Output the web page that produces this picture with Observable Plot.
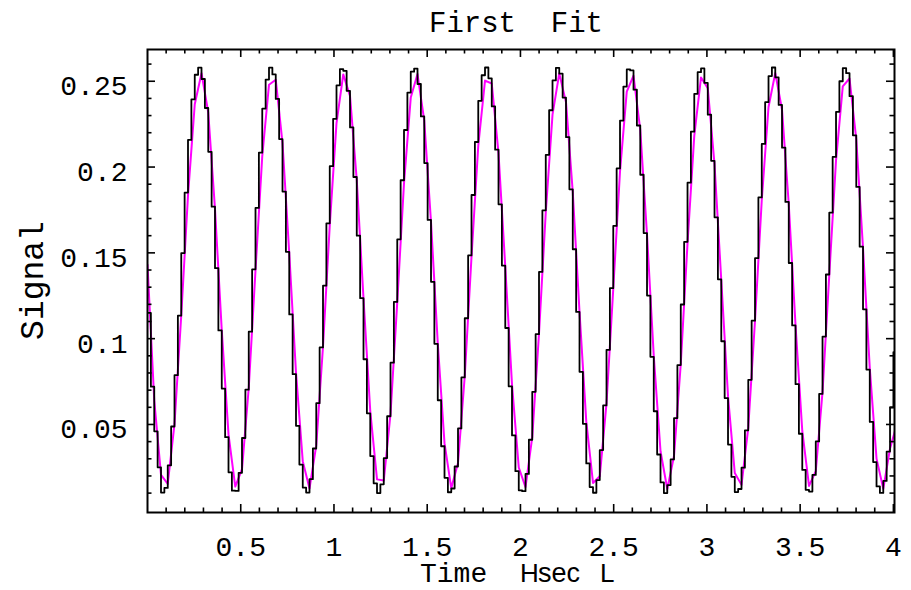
<!DOCTYPE html>
<html><head><meta charset="utf-8">
<script src="https://cdn.jsdelivr.net/npm/d3@7"></script>
<script src="https://cdn.jsdelivr.net/npm/@observablehq/plot@0.6"></script>
<style>
html,body{margin:0;padding:0;background:#fff;}
#chart{width:911px;height:590px;}
</style></head><body><div id="chart"></div>
<script>
// ---- data ----
const sampleStep = 0.0181;   // seconds between measured samples
const fitStep = 0.0362;      // seconds between fitted-curve points
const measuredSignal = [
0.115, 0.072, 0.046, 0.025, 0.0103, 0.0130, 0.0262, 0.0488, 0.0787, 0.1134,
0.1499, 0.1851, 0.2158, 0.2394, 0.2538, 0.2579, 0.2513, 0.2344, 0.2089, 0.1769,
0.1411, 0.1048, 0.0709, 0.0426, 0.0221, 0.0114, 0.0113, 0.0218, 0.0421, 0.0703,
0.1041, 0.1404, 0.1762, 0.2084, 0.2340, 0.2510, 0.2579, 0.2540, 0.2397, 0.2163,
0.1857, 0.1506, 0.1141, 0.0793, 0.0492, 0.0266, 0.0132, 0.0103, 0.0181, 0.0360,
0.0624, 0.0949, 0.1309, 0.1672, 0.2005, 0.2281, 0.2476, 0.2571, 0.2561, 0.2444,
0.2231, 0.1942, 0.1600, 0.1236, 0.0880, 0.0565, 0.0316, 0.0157, 0.0100, 0.0151,
0.0304, 0.0548, 0.0860, 0.1214, 0.1579, 0.1923, 0.2216, 0.2434, 0.2556, 0.2574,
0.2484, 0.2295, 0.2023, 0.1692, 0.1331, 0.0970, 0.0641, 0.0373, 0.0189, 0.0105,
0.0127, 0.0255, 0.0477, 0.0774, 0.1119, 0.1485, 0.1837, 0.2146, 0.2386, 0.2535,
0.2580, 0.2517, 0.2353, 0.2101, 0.1783, 0.1426, 0.1062, 0.0722, 0.0436, 0.0228,
0.0116, 0.0111, 0.0212, 0.0411, 0.0690, 0.1026, 0.1389, 0.1748, 0.2071, 0.2331,
0.2505, 0.2578, 0.2544, 0.2405, 0.2174, 0.1870, 0.1521, 0.1156, 0.0807, 0.0504,
0.0273, 0.0135, 0.0102, 0.0176, 0.0351, 0.0611, 0.0935, 0.1294, 0.1657, 0.1992,
0.2271, 0.2469, 0.2569, 0.2563, 0.2451, 0.2242, 0.1955, 0.1615, 0.1251, 0.0894,
0.0577, 0.0325, 0.0162, 0.0100, 0.0147, 0.0296, 0.0537, 0.0846, 0.1199, 0.1564,
0.1909, 0.2206, 0.2427, 0.2553, 0.2575, 0.2490, 0.2305, 0.2036, 0.1707, 0.1346,
0.0985, 0.0654, 0.0383, 0.0195, 0.0106, 0.0124, 0.0248, 0.0466, 0.0760, 0.1105,
0.1469, 0.1823, 0.2135, 0.2378, 0.2530, 0.2580, 0.2522, 0.2362, 0.2113, 0.1797,
0.1441, 0.1077, 0.0735, 0.0446, 0.0235, 0.0119, 0.0109, 0.0206, 0.0401, 0.0678,
0.1012, 0.1374, 0.1734, 0.2059, 0.2322, 0.2500, 0.2577, 0.2547, 0.2413, 0.2185,
0.1884, 0.1536, 0.1171, 0.0820, 0.0515, 0.0281, 0.0139, 0.0101, 0.0171, 0.0342,
0.0599, 0.0921
];
const fitSignal = [
0.143, 0.0641, 0.0206, 0.0154, 0.0503, 0.1135, 0.1835, 0.2366, 0.2547, 0.2318,
0.1755, 0.1050, 0.0442, 0.0138, 0.0240, 0.0714, 0.1399, 0.2063, 0.2480, 0.2509,
0.2140, 0.1498, 0.0802, 0.0286, 0.0127, 0.0378, 0.0954, 0.1660, 0.2256, 0.2540,
0.2415, 0.1924, 0.1234, 0.0578, 0.0180, 0.0173, 0.0562, 0.1213, 0.1906, 0.2405,
0.2542, 0.2270, 0.1680, 0.0975, 0.0391, 0.0129, 0.0276, 0.0783, 0.1477, 0.2124,
0.2504, 0.2487, 0.2080, 0.1420, 0.0732, 0.0249, 0.0135, 0.0428, 0.1030, 0.1735,
0.2305, 0.2546, 0.2377, 0.1854, 0.1156, 0.0518, 0.0159, 0.0198, 0.0624, 0.1291,
0.1974, 0.2440, 0.2532, 0.2217, 0.1605, 0.0900, 0.0344, 0.0124, 0.0316, 0.0853,
0.1555, 0.2182, 0.2522, 0.2460, 0.2016, 0.1342, 0.0665, 0.0217, 0.0148, 0.0482,
0.1106, 0.1808, 0.2350, 0.2548, 0.2334, 0.1782, 0.1079, 0.0462, 0.0142, 0.0228,
0.0689, 0.1370, 0.2039, 0.2470, 0.2516, 0.2162, 0.1527, 0.0828, 0.0301, 0.0125,
0.0360, 0.050
];
const xMajorTicks = [0.5, 1, 1.5, 2, 2.5, 3, 3.5, 4];
const yMajorTicks = [0.05, 0.1, 0.15, 0.2, 0.25];
const xMinorTicks = d3.range(1, 40).filter(i => i % 5).map(i => i / 10);
const yMinorTicks = d3.range(1, 27).filter(i => i % 5).map(i => i / 100);
const titleText = "First  Fit";
const yLabelText = "Signal";
const xLabelMain = "Time";
const xLabelUnitParts = ["H", "sec", "L"];

// ---- build tables ----
const measured = measuredSignal.map((v, i) => ({t: i * sampleStep, v}));
const fit = fitSignal.map((v, i) => ({t: i * fitStep, v}));

const W = 911, H = 590, mL = 147, mR = 17, mT = 49, mB = 78;
const plotW = W - mL - mR, plotH = H - mT - mB;
const majorLen = 8, minorLen = 4.5;
const tk = {stroke: "black", strokeWidth: 1.6};
const mono = "'Liberation Mono', 'Courier New', monospace";
const sans = "'Liberation Sans', Arial, sans-serif";

const chart = Plot.plot({
  width: W, height: H,
  marginLeft: mL, marginRight: mR, marginTop: mT, marginBottom: mB,
  style: {fontFamily: mono, background: "white", overflow: "visible", color: "black"},
  x: {domain: [0, 4.006]},
  y: {domain: [-0.0013, 0.2685]},
  marks: [
    Plot.line(fit, {x: "t", y: "v", stroke: "#ff00ff", strokeWidth: 2, clip: true}),
    Plot.line(measured, {x: "t", y: "v", curve: "step-after", stroke: "black", strokeWidth: 1.8, clip: true}),
    // inward ticks, bottom & top
    Plot.tickX(xMajorTicks, {x: d => d, insetTop: plotH - majorLen, ...tk}),
    Plot.tickX(xMinorTicks, {x: d => d, insetTop: plotH - minorLen, ...tk}),
    Plot.tickX(xMajorTicks, {x: d => d, insetBottom: plotH - majorLen, ...tk}),
    Plot.tickX(xMinorTicks, {x: d => d, insetBottom: plotH - minorLen, ...tk}),
    // inward ticks, left & right
    Plot.tickY(yMajorTicks, {y: d => d, insetRight: plotW - majorLen, ...tk}),
    Plot.tickY(yMinorTicks, {y: d => d, insetRight: plotW - minorLen, ...tk}),
    Plot.tickY(yMajorTicks, {y: d => d, insetLeft: plotW - majorLen, ...tk}),
    Plot.tickY(yMinorTicks, {y: d => d, insetLeft: plotW - minorLen, ...tk}),
    Plot.frame({stroke: "black", strokeWidth: 2}),
    Plot.axisX(xMajorTicks, {tickSize: 0, tickPadding: 24, fontSize: 28, label: null, tickFormat: d => String(d), fill: "black"}),
    Plot.axisY(yMajorTicks, {tickSize: 0, tickPadding: 20, fontSize: 28, dy: 5, label: null, tickFormat: d => String(d), fill: "black"})
  ]
});
document.getElementById("chart").appendChild(chart);

// ---- title and axis labels ----
const svg = d3.select(chart);
svg.append("text")
  .attr("x", 516).attr("y", 32)
  .attr("text-anchor", "middle")
  .attr("font-family", mono).attr("font-size", 29)
  .style("white-space", "pre")
  .text(titleText);

svg.append("text")
  .attr("transform", "translate(43,280.5) rotate(-90)")
  .attr("text-anchor", "middle")
  .attr("font-family", mono).attr("font-size", 33)
  .text(yLabelText);

const xl = svg.append("g").attr("text-anchor", "start");
xl.append("text").attr("x", 420).attr("y", 582).attr("font-family", mono).attr("font-size", 28).text(xLabelMain);
xl.append("text").attr("x", 520).attr("y", 582).attr("font-family", sans).attr("font-size", 26).text(xLabelUnitParts[0]);
xl.append("text").attr("x", 538).attr("y", 582).attr("font-family", sans).attr("font-size", 27).text(xLabelUnitParts[1]);
xl.append("text").attr("x", 600).attr("y", 582).attr("font-family", sans).attr("font-size", 26).text(xLabelUnitParts[2]);
</script>
</body></html>
